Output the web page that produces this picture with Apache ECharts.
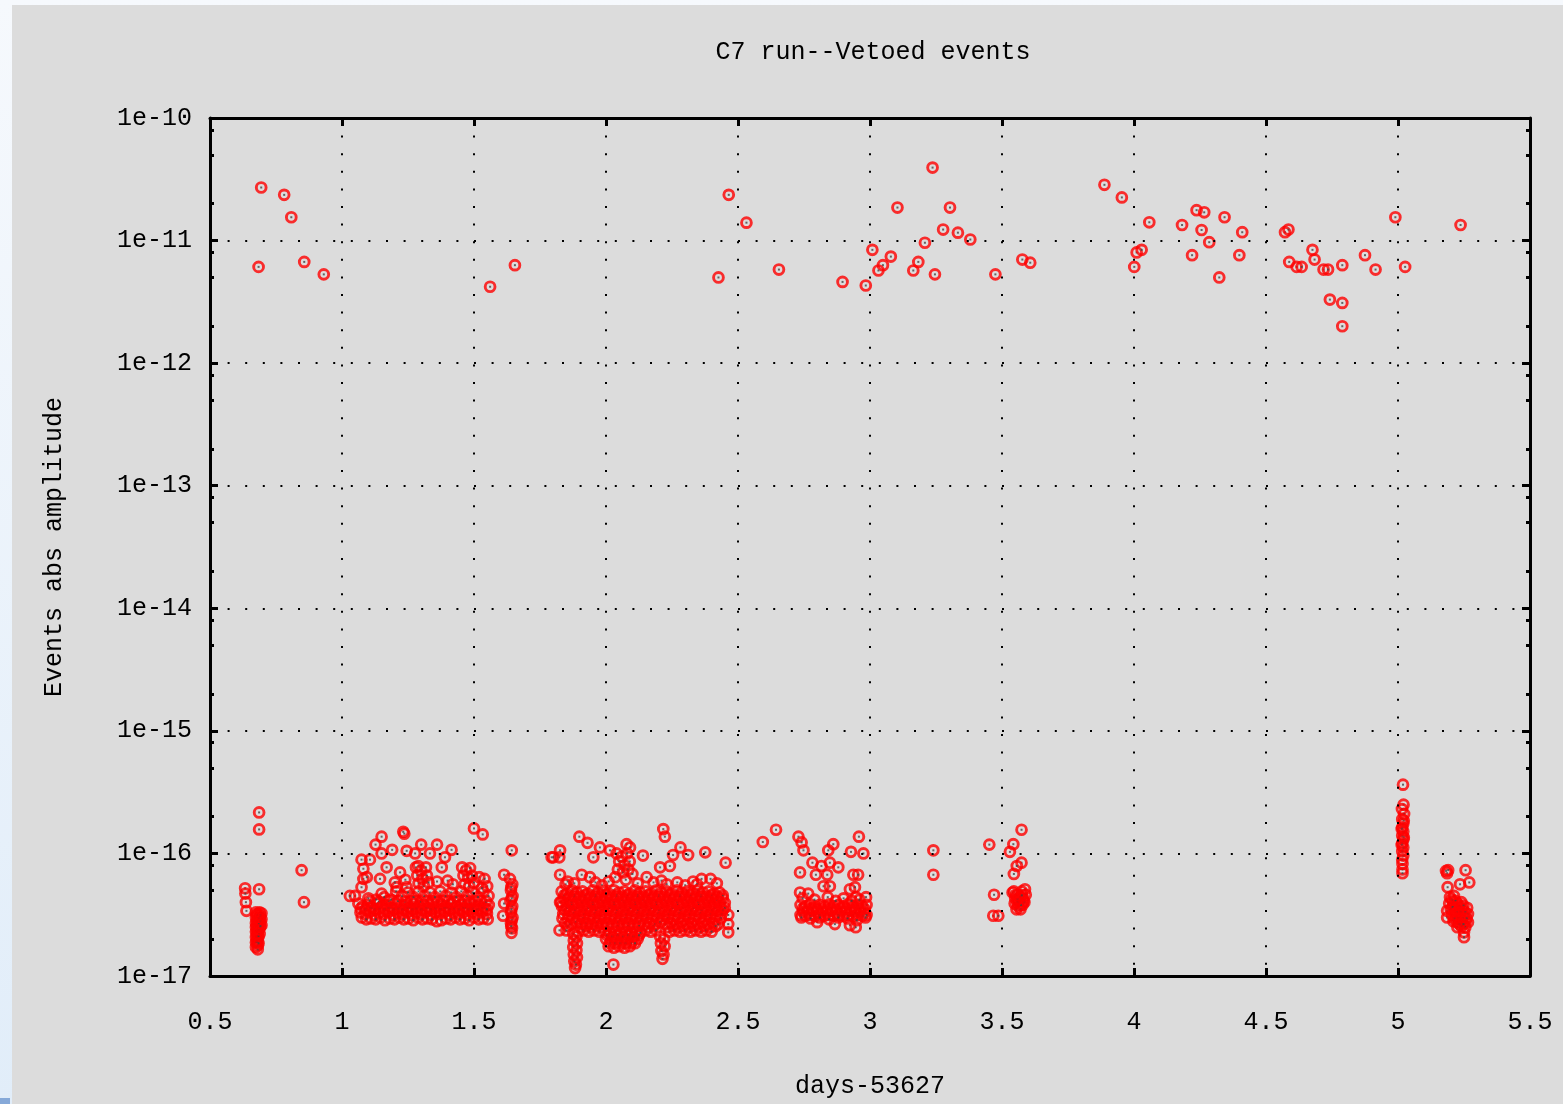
<!DOCTYPE html>
<html>
<head>
<meta charset="utf-8">
<title>C7 run--Vetoed events</title>
<script src="https://cdn.jsdelivr.net/npm/echarts@6/dist/echarts.min.js"></script>
<style>
  html, body { margin: 0; padding: 0; width: 1563px; height: 1104px; overflow: hidden;
    background: linear-gradient(#f6f9fd, #e1edf9); }
  #myChart { position: absolute; left: 12px; top: 5px; width: 1551px; height: 1099px; background: #dcdcdc; }
  #corner { position: absolute; left: 0; top: 1098px; width: 10px; height: 6px; background: #86a9d8; }
</style>
</head>
<body>
<div id="myChart"></div>
<div id="corner"></div>
<script>
// [days-53627, abs amplitude]

// loud events, 1e-12 .. 1e-10
const eventsHigh = [
  [0.694,2.71e-11],[0.781,2.36e-11],[0.808,1.55e-11],[0.684,6.1e-12],[0.857,6.7e-12],[0.931,5.3e-12],
  [1.561,4.2e-12],[1.655,6.3e-12],
  [2.426,5.0e-12],[2.465,2.36e-11],[2.532,1.40e-11],[2.655,5.8e-12],
  [2.896,4.6e-12],[2.984,4.3e-12],[3.009,8.4e-12],[3.079,7.4e-12],[3.049,6.3e-12],[3.032,5.7e-12],
  [3.104,1.86e-11],[3.237,3.94e-11],[3.183,6.7e-12],[3.164,5.7e-12],[3.208,9.6e-12],[3.246,5.3e-12],
  [3.303,1.86e-11],[3.277,1.23e-11],[3.333,1.16e-11],[3.380,1.02e-11],[3.475,5.3e-12],[3.577,7.0e-12],[3.607,6.6e-12],
  [3.888,2.85e-11],[3.954,2.25e-11],[4.058,1.41e-11],[4.010,8.0e-12],[4.029,8.4e-12],[4.001,6.1e-12],
  [4.182,1.34e-11],[4.237,1.77e-11],[4.266,1.70e-11],[4.256,1.22e-11],[4.285,9.7e-12],[4.343,1.55e-11],
  [4.220,7.6e-12],[4.323,5.0e-12],[4.410,1.17e-11],[4.399,7.6e-12],[4.572,1.17e-11],[4.585,1.23e-11],
  [4.588,6.7e-12],[4.616,6.1e-12],[4.635,6.1e-12],[4.676,8.4e-12],[4.684,7.0e-12],[4.718,5.8e-12],[4.735,5.8e-12],
  [4.789,6.3e-12],[4.742,3.3e-12],[4.789,3.1e-12],[4.789,2.0e-12],[4.875,7.6e-12],[4.915,5.8e-12],
  [4.990,1.55e-11],[5.027,6.1e-12],[5.237,1.34e-11]
];

// day 0.6 - 0.9
const eventsDay06 = [
  [0.633,5.2e-17],[0.634,4.7e-17],[0.636,4.0e-17],[0.638,3.4e-17],[0.686,5.1e-17],[0.686,2.16e-16],[0.686,1.57e-16],
  [0.847,7.3e-17],[0.856,4.0e-17],
  [0.674,3.3e-17],[0.674,3.0e-17],[0.674,2.7e-17],[0.674,2.5e-17],[0.674,2.3e-17],[0.674,2.07e-17],[0.674,1.88e-17],[0.674,1.72e-17],
  [0.681,3.2e-17],[0.681,2.85e-17],[0.681,2.6e-17],[0.681,2.4e-17],[0.681,2.15e-17],[0.681,1.95e-17],[0.681,1.78e-17],[0.681,1.65e-17],
  [0.688,3.3e-17],[0.688,3.0e-17],[0.688,2.7e-17],[0.688,2.45e-17],[0.688,2.2e-17],
  [0.695,3.25e-17],[0.695,2.9e-17],[0.695,2.6e-17],
  [0.677,3.15e-17],[0.677,2.8e-17],[0.677,2.55e-17],[0.677,2.3e-17],[0.677,2.1e-17],[0.677,1.9e-17],
  [0.684,2.95e-17],[0.684,2.65e-17],[0.684,2.35e-17],[0.684,2.1e-17],[0.684,1.85e-17],
  [0.691,3.1e-17],[0.691,2.8e-17],[0.691,2.55e-17]
];

// day 1.0 - 1.7
const eventsDay10 = [
  [1.150,1.37e-16],[1.232,1.5e-16],[1.236,1.45e-16],[1.127,1.18e-16],[1.190,1.07e-16],[1.300,1.18e-16],[1.360,1.18e-16],
  [1.415,1.07e-16],[1.245,1.05e-16],[1.277,1.0e-16],[1.333,1.0e-16],[1.150,1.0e-16],[1.074,8.9e-17],[1.106,8.9e-17],
  [1.390,9.3e-17],[1.169,7.7e-17],[1.220,7.0e-17],[1.081,7.5e-17],[1.378,7.7e-17],[1.289,7.9e-17],[1.144,6.2e-17],
  [1.081,6.2e-17],[1.207,5.3e-17],[1.245,5.3e-17],[1.150,4.7e-17],[1.049,4.5e-17],[1.030,4.5e-17],[1.074,5.3e-17],
  [1.094,6.4e-17],[1.500,1.6e-16],[1.533,1.43e-16],[1.643,1.06e-16],
  [1.062,3.9e-17],[1.079,3.7e-17],[1.098,3.8e-17],[1.114,3.6e-17],[1.133,3.9e-17],[1.151,3.7e-17],[1.167,3.8e-17],
  [1.187,3.6e-17],[1.203,3.9e-17],[1.222,3.7e-17],[1.238,3.8e-17],[1.257,3.6e-17],[1.273,3.9e-17],[1.293,3.7e-17],
  [1.308,3.8e-17],[1.328,3.6e-17],[1.344,3.9e-17],[1.363,3.7e-17],[1.379,3.8e-17],[1.399,3.6e-17],[1.414,3.9e-17],
  [1.434,3.7e-17],[1.450,3.8e-17],[1.469,3.6e-17],[1.485,3.9e-17],[1.505,3.7e-17],[1.520,3.8e-17],[1.540,3.6e-17],[1.556,3.8e-17],
  [1.070,3.3e-17],[1.088,3.2e-17],[1.106,3.35e-17],[1.124,3.15e-17],[1.142,3.3e-17],[1.159,3.2e-17],[1.177,3.35e-17],
  [1.195,3.15e-17],[1.212,3.3e-17],[1.230,3.2e-17],[1.248,3.35e-17],[1.266,3.15e-17],[1.283,3.3e-17],[1.301,3.2e-17],
  [1.319,3.35e-17],[1.336,3.15e-17],[1.354,3.3e-17],[1.372,3.2e-17],[1.389,3.35e-17],[1.407,3.15e-17],[1.425,3.3e-17],
  [1.443,3.2e-17],[1.460,3.35e-17],[1.478,3.15e-17],[1.496,3.3e-17],[1.513,3.2e-17],[1.531,3.35e-17],[1.549,3.2e-17],
  [1.075,3.0e-17],[1.110,2.95e-17],[1.146,3.0e-17],[1.181,2.95e-17],[1.217,3.0e-17],[1.252,2.95e-17],[1.288,3.0e-17],
  [1.323,2.95e-17],[1.359,2.8e-17],[1.394,2.95e-17],[1.430,3.0e-17],[1.465,2.95e-17],[1.500,3.0e-17],[1.535,2.95e-17],
  [1.092,2.9e-17],[1.128,2.9e-17],[1.163,2.85e-17],[1.199,2.9e-17],[1.234,2.9e-17],[1.270,2.85e-17],[1.305,2.9e-17],
  [1.341,2.9e-17],[1.376,2.85e-17],[1.412,2.9e-17],[1.447,2.9e-17],[1.482,2.85e-17],[1.518,2.9e-17],[1.552,2.9e-17],
  [1.071,3.55e-17],[1.089,3.5e-17],[1.107,3.6e-17],[1.124,3.5e-17],[1.142,3.55e-17],[1.160,3.5e-17],[1.177,3.6e-17],
  [1.195,3.5e-17],[1.213,3.55e-17],[1.230,3.5e-17],[1.248,3.6e-17],[1.266,3.5e-17],[1.283,3.55e-17],[1.301,3.5e-17],
  [1.319,3.6e-17],[1.336,3.5e-17],[1.354,3.55e-17],[1.372,3.5e-17],[1.389,3.6e-17],[1.407,3.5e-17],[1.425,3.55e-17],
  [1.443,3.5e-17],[1.460,3.6e-17],[1.478,3.5e-17],[1.496,3.55e-17],[1.513,3.5e-17],[1.531,3.6e-17],[1.549,3.5e-17],
  [1.105,4.1e-17],[1.140,4.05e-17],[1.176,4.1e-17],[1.212,4.1e-17],[1.240,4.05e-17],[1.262,4.1e-17],[1.281,4.1e-17],
  [1.300,4.05e-17],[1.322,4.1e-17],[1.343,4.1e-17],[1.362,4.05e-17],[1.383,4.1e-17],[1.403,4.1e-17],[1.424,4.05e-17],
  [1.443,4.1e-17],[1.463,4.1e-17],[1.484,4.05e-17],[1.505,4.1e-17],[1.526,4.1e-17],[1.546,4.05e-17],
  [1.205,4.9e-17],[1.228,4.5e-17],[1.250,4.8e-17],[1.271,4.4e-17],[1.290,4.9e-17],[1.312,4.5e-17],[1.333,4.8e-17],
  [1.352,4.4e-17],[1.372,4.9e-17],[1.393,4.5e-17],[1.414,4.8e-17],[1.433,4.4e-17],[1.452,4.9e-17],[1.474,4.5e-17],
  [1.495,4.8e-17],[1.515,4.4e-17],[1.536,4.9e-17],[1.555,4.5e-17],
  [1.100,4.3e-17],[1.130,4.2e-17],[1.160,4.4e-17],[1.185,4.2e-17],
  [1.280,7.7e-17],[1.300,7.2e-17],[1.318,7.7e-17],[1.285,6.6e-17],[1.305,6.2e-17],[1.322,6.6e-17],[1.290,5.7e-17],
  [1.310,5.4e-17],[1.328,5.8e-17],
  [1.455,7.7e-17],[1.470,7.3e-17],[1.485,7.6e-17],[1.460,6.6e-17],[1.478,6.3e-17],[1.492,6.6e-17],[1.465,5.6e-17],
  [1.482,5.4e-17],[1.500,5.8e-17],[1.520,6.4e-17],[1.540,6.2e-17],[1.550,5.4e-17],[1.530,5.2e-17],
  [1.400,6.0e-17],[1.420,5.6e-17],[1.360,5.9e-17],[1.240,6.1e-17],[1.200,5.8e-17],
  [1.614,6.7e-17],[1.614,3.9e-17],[1.610,3.1e-17],[1.636,6.2e-17],[1.645,5.6e-17],[1.640,5.0e-17],[1.646,4.5e-17],
  [1.638,4.1e-17],[1.645,3.7e-17],[1.640,3.3e-17],[1.646,3.0e-17],[1.640,2.7e-17],[1.644,2.45e-17],[1.642,2.25e-17],
  [1.641,5.3e-17],[1.643,4.3e-17],[1.642,3.5e-17],[1.643,2.85e-17],[1.641,2.55e-17]
];

// day 1.8 - 2.5
const eventsDay18 = [
  [1.823,9.3e-17],[1.794,9.3e-17],[1.826,1.06e-16],[1.899,1.37e-16],[1.930,1.22e-16],[1.977,1.12e-16],[2.015,1.06e-16],
  [1.952,9.3e-17],[1.826,6.7e-17],[1.847,5.6e-17],[1.826,4.0e-17],[1.824,2.36e-17],[2.028,1.24e-17],[1.883,1.16e-17],
  [2.217,1.58e-16],[2.223,1.37e-16],[2.078,1.19e-16],[2.091,1.12e-16],[2.140,9.6e-17],[2.282,1.12e-16],[2.254,9.7e-17],
  [2.311,9.7e-17],[2.376,1.02e-16],[2.453,8.4e-17],[1.800,9.3e-17],[2.205,7.7e-17],[2.242,7.9e-17],[1.908,6.7e-17],
  [1.939,6.4e-17],[2.154,6.4e-17],[2.110,4.2e-17],[2.362,6.2e-17],[2.396,6.2e-17],[2.463,3.15e-17],[2.463,2.65e-17],[2.463,2.27e-17],
  [2.040,1.0e-16],[2.060,9.4e-17],[2.080,1.0e-16],[2.050,8.6e-17],[2.070,8.0e-17],[2.090,8.6e-17],[2.045,7.4e-17],
  [2.065,7.0e-17],[2.085,7.4e-17],[2.100,6.8e-17],[2.035,6.4e-17],[2.075,6.1e-17],
  [1.855,5.9e-17],[1.880,5.7e-17],[1.960,5.8e-17],[1.985,5.5e-17],[2.010,5.9e-17],[2.120,5.7e-17],[2.180,5.8e-17],
  [2.210,6.0e-17],[2.230,5.6e-17],[2.270,5.8e-17],[2.300,5.5e-17],[2.330,5.9e-17],[2.345,5.6e-17],[2.420,5.7e-17],
  [1.832,4.9e-17],[1.851,4.7e-17],[1.872,5.0e-17],[1.890,4.8e-17],[1.911,4.9e-17],[1.930,4.7e-17],[1.951,5.0e-17],
  [1.970,4.8e-17],[1.990,4.9e-17],[2.010,4.7e-17],[2.030,5.0e-17],[2.049,4.8e-17],[2.070,4.9e-17],[2.089,4.7e-17],
  [2.110,5.0e-17],[2.129,4.8e-17],[2.150,4.9e-17],[2.169,4.7e-17],[2.190,5.0e-17],[2.208,4.8e-17],[2.229,4.9e-17],
  [2.248,4.7e-17],[2.269,5.0e-17],[2.288,4.8e-17],[2.309,4.9e-17],[2.328,4.7e-17],[2.349,5.0e-17],[2.368,4.8e-17],
  [2.389,4.9e-17],[2.408,4.7e-17],[2.430,4.8e-17],
  [1.842,4.55e-17],[1.862,4.45e-17],[1.882,4.55e-17],[1.902,4.45e-17],[1.922,4.55e-17],[1.942,4.45e-17],[1.962,4.55e-17],
  [1.982,4.45e-17],[2.002,4.55e-17],[2.022,4.45e-17],[2.042,4.55e-17],[2.062,4.45e-17],[2.082,4.55e-17],[2.102,4.45e-17],
  [2.122,4.55e-17],[2.142,4.45e-17],[2.162,4.55e-17],[2.182,4.45e-17],[2.202,4.55e-17],[2.222,4.45e-17],[2.242,4.55e-17],
  [2.262,4.45e-17],[2.282,4.55e-17],[2.302,4.45e-17],[2.322,4.55e-17],[2.342,4.45e-17],[2.362,4.55e-17],[2.382,4.45e-17],
  [2.402,4.55e-17],[2.422,4.45e-17],[2.442,4.55e-17],
  [1.840,4.3e-17],[1.861,4.2e-17],[1.880,4.4e-17],[1.901,4.2e-17],[1.920,4.3e-17],[1.941,4.2e-17],[1.960,4.4e-17],
  [1.981,4.2e-17],[2.000,4.3e-17],[2.021,4.2e-17],[2.040,4.4e-17],[2.061,4.2e-17],[2.080,4.3e-17],[2.101,4.2e-17],
  [2.120,4.4e-17],[2.141,4.2e-17],[2.160,4.3e-17],[2.181,4.2e-17],[2.200,4.4e-17],[2.221,4.2e-17],[2.240,4.3e-17],
  [2.261,4.2e-17],[2.280,4.4e-17],[2.301,4.2e-17],[2.320,4.3e-17],[2.341,4.2e-17],[2.360,4.4e-17],[2.381,4.2e-17],
  [2.400,4.3e-17],[2.421,4.2e-17],[2.442,4.3e-17],
  [1.830,4.0e-17],[1.850,3.95e-17],[1.870,4.0e-17],[1.890,3.95e-17],[1.910,4.0e-17],[1.930,3.95e-17],[1.950,4.0e-17],
  [1.970,3.95e-17],[1.990,4.0e-17],[2.010,3.95e-17],[2.030,4.0e-17],[2.050,3.95e-17],[2.070,4.0e-17],[2.090,3.95e-17],
  [2.110,4.0e-17],[2.130,3.95e-17],[2.150,4.0e-17],[2.170,3.95e-17],[2.190,4.0e-17],[2.210,3.95e-17],[2.230,4.0e-17],
  [2.250,3.95e-17],[2.270,4.0e-17],[2.290,3.95e-17],[2.310,4.0e-17],[2.330,3.95e-17],[2.350,4.0e-17],[2.370,3.95e-17],
  [2.390,4.0e-17],[2.410,3.95e-17],[2.430,4.0e-17],[2.450,3.95e-17],
  [1.833,3.7e-17],[1.852,3.6e-17],[1.873,3.8e-17],[1.892,3.6e-17],[1.913,3.7e-17],[1.932,3.6e-17],[1.953,3.8e-17],
  [1.972,3.6e-17],[1.993,3.7e-17],[2.012,3.6e-17],[2.033,3.8e-17],[2.052,3.6e-17],[2.073,3.7e-17],[2.092,3.6e-17],
  [2.113,3.8e-17],[2.132,3.6e-17],[2.153,3.7e-17],[2.172,3.6e-17],[2.193,3.8e-17],[2.212,3.6e-17],[2.233,3.7e-17],
  [2.252,3.6e-17],[2.273,3.8e-17],[2.292,3.6e-17],[2.313,3.7e-17],[2.332,3.6e-17],[2.353,3.8e-17],[2.372,3.6e-17],
  [2.393,3.7e-17],[2.412,3.6e-17],[2.433,3.7e-17],[2.450,3.6e-17],
  [1.843,3.45e-17],[1.863,3.4e-17],[1.883,3.45e-17],[1.903,3.4e-17],[1.923,3.45e-17],[1.943,3.4e-17],[1.963,3.45e-17],
  [1.983,3.4e-17],[2.003,3.45e-17],[2.023,3.4e-17],[2.043,3.45e-17],[2.063,3.4e-17],[2.083,3.45e-17],[2.103,3.4e-17],
  [2.123,3.45e-17],[2.143,3.4e-17],[2.163,3.45e-17],[2.183,3.4e-17],[2.203,3.45e-17],[2.223,3.4e-17],[2.243,3.45e-17],
  [2.263,3.4e-17],[2.283,3.45e-17],[2.303,3.4e-17],[2.323,3.45e-17],[2.343,3.4e-17],[2.363,3.45e-17],[2.383,3.4e-17],
  [2.403,3.45e-17],[2.423,3.4e-17],[2.443,3.45e-17],
  [1.838,3.2e-17],[1.859,3.1e-17],[1.878,3.25e-17],[1.899,3.1e-17],[1.918,3.2e-17],[1.939,3.1e-17],[1.958,3.25e-17],
  [1.979,3.1e-17],[1.998,3.2e-17],[2.019,3.1e-17],[2.038,3.25e-17],[2.059,3.1e-17],[2.078,3.2e-17],[2.099,3.1e-17],
  [2.118,3.25e-17],[2.139,3.1e-17],[2.158,3.2e-17],[2.179,3.1e-17],[2.198,3.25e-17],[2.219,3.1e-17],[2.238,3.2e-17],
  [2.259,3.1e-17],[2.278,3.25e-17],[2.299,3.1e-17],[2.318,3.2e-17],[2.339,3.1e-17],[2.358,3.25e-17],[2.379,3.1e-17],
  [2.398,3.2e-17],[2.419,3.1e-17],[2.438,3.2e-17],
  [1.835,2.95e-17],[1.855,2.9e-17],[1.875,2.95e-17],[1.895,2.9e-17],[1.915,2.95e-17],[1.935,2.9e-17],[1.955,2.95e-17],
  [1.975,2.9e-17],[1.995,2.95e-17],[2.015,2.9e-17],[2.035,2.95e-17],[2.055,2.9e-17],[2.075,2.95e-17],[2.095,2.9e-17],
  [2.115,2.95e-17],[2.135,2.9e-17],[2.155,2.95e-17],[2.175,2.9e-17],[2.195,2.95e-17],[2.215,2.9e-17],[2.235,2.95e-17],
  [2.255,2.9e-17],[2.275,2.95e-17],[2.295,2.9e-17],[2.315,2.95e-17],[2.335,2.9e-17],[2.355,2.95e-17],[2.375,2.9e-17],
  [2.395,2.95e-17],[2.415,2.9e-17],[2.435,2.95e-17],
  [1.845,2.7e-17],[1.866,2.65e-17],[1.886,2.75e-17],[1.905,2.65e-17],[1.926,2.7e-17],[1.946,2.65e-17],[1.966,2.75e-17],
  [1.986,2.65e-17],[2.006,2.7e-17],[2.026,2.65e-17],[2.046,2.75e-17],[2.066,2.65e-17],[2.086,2.7e-17],[2.106,2.65e-17],
  [2.126,2.75e-17],[2.146,2.65e-17],[2.166,2.7e-17],[2.186,2.65e-17],[2.206,2.75e-17],[2.226,2.65e-17],[2.246,2.7e-17],
  [2.266,2.65e-17],[2.286,2.75e-17],[2.306,2.65e-17],[2.326,2.7e-17],[2.346,2.65e-17],[2.366,2.75e-17],[2.386,2.65e-17],
  [2.406,2.7e-17],[2.426,2.65e-17],
  [1.855,2.55e-17],[1.905,2.5e-17],[1.925,2.55e-17],[1.945,2.5e-17],[1.965,2.55e-17],[1.985,2.5e-17],[2.005,2.55e-17],
  [2.025,2.5e-17],[2.045,2.55e-17],[2.065,2.5e-17],[2.085,2.55e-17],[2.105,2.5e-17],[2.125,2.55e-17],[2.160,2.5e-17],
  [2.180,2.55e-17],[2.235,2.5e-17],[2.255,2.55e-17],[2.275,2.5e-17],[2.295,2.55e-17],[2.315,2.5e-17],[2.335,2.55e-17],
  [2.355,2.5e-17],[2.375,2.55e-17],[2.395,2.5e-17],[2.415,2.55e-17],
  [1.850,2.35e-17],[1.895,2.3e-17],[1.915,2.35e-17],[1.935,2.3e-17],[1.955,2.35e-17],[1.975,2.3e-17],[2.150,2.35e-17],
  [2.170,2.3e-17],[2.190,2.35e-17],[2.240,2.3e-17],[2.260,2.35e-17],[2.280,2.3e-17],[2.300,2.35e-17],[2.320,2.3e-17],
  [2.340,2.35e-17],[2.360,2.3e-17],[2.380,2.35e-17],[2.400,2.3e-17],
  [1.876,2.2e-17],[1.888,2.1e-17],[1.878,1.95e-17],[1.890,1.85e-17],[1.876,1.72e-17],[1.888,1.62e-17],[1.878,1.5e-17],
  [1.890,1.42e-17],[1.880,1.32e-17],[1.886,1.24e-17],
  [1.995,2.3e-17],[2.015,2.25e-17],[2.035,2.3e-17],[2.055,2.25e-17],[2.075,2.3e-17],[2.095,2.25e-17],[2.115,2.3e-17],
  [2.130,2.25e-17],[2.000,2.0e-17],[2.020,1.95e-17],[2.040,2.0e-17],[2.060,1.95e-17],[2.080,2.0e-17],[2.100,1.95e-17],
  [2.120,2.0e-17],[2.010,1.75e-17],[2.030,1.7e-17],[2.050,1.75e-17],[2.070,1.7e-17],[2.090,1.75e-17],
  [2.005,2.15e-17],[2.025,2.1e-17],[2.045,2.15e-17],[2.065,2.1e-17],[2.085,2.15e-17],[2.105,2.1e-17],[2.125,2.15e-17],
  [2.015,1.85e-17],[2.035,1.85e-17],[2.055,1.85e-17],[2.075,1.85e-17],[2.095,1.85e-17],[2.110,1.85e-17],
  [2.205,2.1e-17],[2.220,2.0e-17],[2.208,1.85e-17],[2.222,1.75e-17],[2.210,1.6e-17],[2.218,1.5e-17],[2.214,1.38e-17]
];

// day 2.6 - 3.3
const eventsDay26 = [
  [2.644,1.56e-16],[2.594,1.24e-16],[2.729,1.37e-16],[2.741,1.23e-16],[2.748,1.06e-16],[2.958,1.37e-16],[2.861,1.19e-16],
  [2.842,1.06e-16],[2.928,1.03e-16],[2.975,1.0e-16],[2.782,8.4e-17],[2.816,7.9e-17],[2.848,8.4e-17],[2.880,7.7e-17],
  [2.735,7.0e-17],[2.795,6.7e-17],[2.838,6.7e-17],[2.937,6.7e-17],[2.955,6.7e-17],[2.735,4.8e-17],[2.766,4.7e-17],
  [2.824,5.4e-17],[2.848,5.4e-17],[2.924,5.1e-17],[2.943,5.3e-17],[2.947,4.4e-17],[2.924,2.6e-17],[2.867,2.65e-17],
  [2.946,2.5e-17],[2.800,2.75e-17],
  [2.737,3.8e-17],[2.755,3.7e-17],[2.773,3.85e-17],[2.791,3.7e-17],[2.809,3.8e-17],[2.827,3.7e-17],[2.845,3.85e-17],
  [2.863,3.7e-17],[2.881,3.8e-17],[2.899,3.7e-17],[2.917,3.85e-17],[2.935,3.7e-17],[2.953,3.8e-17],[2.971,3.7e-17],[2.987,3.8e-17],
  [2.746,3.55e-17],[2.764,3.5e-17],[2.782,3.55e-17],[2.800,3.5e-17],[2.818,3.55e-17],[2.836,3.5e-17],[2.854,3.55e-17],
  [2.872,3.5e-17],[2.890,3.55e-17],[2.908,3.5e-17],[2.926,3.55e-17],[2.944,3.5e-17],[2.962,3.55e-17],[2.980,3.5e-17],
  [2.746,3.35e-17],[2.764,3.3e-17],[2.782,3.4e-17],[2.800,3.3e-17],[2.818,3.35e-17],[2.836,3.3e-17],[2.854,3.4e-17],
  [2.872,3.3e-17],[2.890,3.35e-17],[2.908,3.3e-17],[2.926,3.4e-17],[2.944,3.3e-17],[2.962,3.35e-17],[2.980,3.3e-17],
  [2.737,3.15e-17],[2.755,3.1e-17],[2.773,3.15e-17],[2.791,3.1e-17],[2.809,3.15e-17],[2.827,3.1e-17],[2.845,3.15e-17],
  [2.863,3.1e-17],[2.881,3.15e-17],[2.899,3.1e-17],[2.917,3.15e-17],[2.935,3.1e-17],[2.953,3.15e-17],[2.971,3.1e-17],[2.987,3.15e-17],
  [2.740,3.0e-17],[2.775,2.95e-17],[2.810,3.0e-17],[2.845,2.9e-17],[2.880,3.0e-17],[2.915,2.95e-17],[2.950,2.85e-17],[2.983,3.0e-17],
  [2.745,4.3e-17],[2.790,4.2e-17],[2.840,4.4e-17],[2.870,4.1e-17],[2.900,4.3e-17],[2.930,4.1e-17],[2.960,4.2e-17],[2.985,4.4e-17],
  [3.240,1.06e-16],[3.240,6.7e-17]
];

// day 3.45 - 3.6
const eventsDay34 = [
  [3.452,1.18e-16],[3.574,1.56e-16],[3.543,1.19e-16],[3.530,1.03e-16],[3.574,8.4e-17],[3.556,7.9e-17],[3.545,6.8e-17],
  [3.470,4.6e-17],[3.467,3.1e-17],[3.486,3.1e-17],[3.587,5.1e-17],[3.540,4.8e-17],
  [3.545,4.9e-17],[3.560,4.6e-17],[3.575,4.9e-17],[3.550,4.3e-17],[3.565,4.1e-17],[3.580,4.3e-17],[3.548,3.9e-17],
  [3.562,3.7e-17],[3.578,3.8e-17],[3.555,3.5e-17],[3.570,3.5e-17],[3.585,4.0e-17],[3.590,4.6e-17],
  [3.552,4.6e-17],[3.568,4.4e-17],[3.582,4.1e-17],[3.558,4.0e-17],[3.572,3.8e-17],[3.560,4.25e-17],[3.575,4.55e-17]
];

// day 5.0
const eventsDay50 = [
  [5.019,3.64e-16],[5.021,2.5e-16],[5.015,2.3e-16],[5.023,2.1e-16],[5.016,1.9e-16],[5.022,1.85e-16],[5.020,1.75e-16],
  [5.016,1.63e-16],[5.014,1.58e-16],[5.020,1.51e-16],[5.016,1.4e-16],[5.022,1.35e-16],[5.020,1.3e-16],[5.016,1.21e-16],
  [5.014,1.17e-16],[5.020,1.12e-16],[5.016,1.04e-16],[5.020,9.6e-17],[5.016,8.9e-17],[5.017,8.2e-17],[5.017,7.4e-17],[5.017,6.9e-17]
];

// day 5.2
const eventsDay52 = [
  [5.182,7.2e-17],[5.186,6.9e-17],[5.190,7.3e-17],[5.256,7.3e-17],[5.188,5.3e-17],[5.235,5.6e-17],[5.270,5.8e-17],
  [5.250,2.27e-17],[5.250,2.07e-17],[5.186,3.4e-17],[5.186,3.0e-17],
  [5.197,4.4e-17],[5.212,4.5e-17],[5.194,3.9e-17],[5.209,4.0e-17],[5.225,3.9e-17],[5.240,4.0e-17],[5.200,3.5e-17],
  [5.215,3.45e-17],[5.230,3.55e-17],[5.245,3.5e-17],[5.262,3.6e-17],[5.205,3.15e-17],[5.220,3.1e-17],[5.235,3.2e-17],
  [5.250,3.1e-17],[5.265,3.2e-17],[5.210,2.8e-17],[5.225,2.75e-17],[5.240,2.85e-17],[5.255,2.8e-17],[5.265,2.75e-17],
  [5.225,2.5e-17],[5.240,2.55e-17],[5.255,2.5e-17],
  [5.203,4.2e-17],[5.218,4.1e-17],[5.233,3.7e-17],[5.248,3.75e-17],[5.207,3.65e-17],[5.222,3.3e-17],[5.238,3.35e-17],
  [5.255,3.3e-17],[5.213,2.95e-17],[5.228,2.95e-17],[5.245,2.95e-17],[5.260,2.95e-17],[5.232,2.65e-17],[5.248,2.65e-17]
];

// minor ticks on the log axis (gnuplot style 2, 5, 8 per decade)
const yMinorTicks = [
  2e-17,5e-17,8e-17, 2e-16,5e-16,8e-16, 2e-15,5e-15,8e-15, 2e-14,5e-14,8e-14,
  2e-13,5e-13,8e-13, 2e-12,5e-12,8e-12, 2e-11,5e-11,8e-11
];

const allEvents = [].concat(eventsHigh, eventsDay06, eventsDay10, eventsDay18, eventsDay26, eventsDay34, eventsDay50, eventsDay52);

const FONT = 'Liberation Mono';
const BLACK = '#000';

// ring with a dark centre dot, like gnuplot pointtype 6
const ringSvg = "<svg xmlns='http://www.w3.org/2000/svg' width='14' height='14'>" +
  "<circle cx='7' cy='7' r='4.9' fill='none' stroke='#ff0000' stroke-width='2.9'/>" +
  "<rect x='6' y='6' width='2' height='2' fill='#444'/></svg>";
const ringSymbol = 'image://data:image/svg+xml;charset=utf-8,' + encodeURIComponent(ringSvg);

const axisLine = {show: true, onZero: false, lineStyle: {color: BLACK, width: 3}};
const majorTick = {show: true, inside: true, length: 8, lineStyle: {color: BLACK, width: 3}};
const minorTick = {show: true, inside: true, length: 4, customValues: yMinorTicks, lineStyle: {color: BLACK, width: 3}};
const dotted = {show: true, lineStyle: {color: BLACK, width: 2, type: [2, 15.6]}};

function logAxis(pos, extra) {
  return Object.assign({
    type: 'log', logBase: 10, min: 1e-17, max: 1e-10, interval: 1, splitNumber: 7,
    position: pos, z: 5,
    axisLine: {show: false}, axisTick: {show: false}, axisLabel: {show: false}, splitLine: {show: false}
  }, extra);
}

const thisChart = echarts.init(document.getElementById('myChart'));

const options = {
  animation: false,
  title: {
    text: 'C7 run--Vetoed events',
    left: 856, top: 30, textAlign: 'center',
    textStyle: {fontFamily: FONT, fontSize: 25, fontWeight: 'normal', color: BLACK}
  },
  grid: {left: 198, right: 33, top: 113, bottom: 122, containLabel: false},
  xAxis: [
    {
      type: 'value', min: 0.5, max: 5.5, interval: 0.5, position: 'bottom', z: 5,
      name: 'days-53627', nameLocation: 'middle', nameGap: 98,
      nameTextStyle: {fontFamily: FONT, fontSize: 25, color: BLACK},
      axisLine: axisLine, axisTick: majorTick,
      axisLabel: {margin: 34, fontFamily: FONT, fontSize: 25, color: BLACK, showMinLabel: true, showMaxLabel: true},
      splitLine: dotted
    },
    {
      type: 'value', min: 0.5, max: 5.5, interval: 0.5, position: 'top', z: 5,
      axisLine: axisLine, axisTick: majorTick, axisLabel: {show: false}, splitLine: {show: false}
    }
  ],
  yAxis: [
    logAxis('left', {
      name: 'Events abs amplitude', nameLocation: 'middle', nameGap: 143, nameRotate: 90,
      nameTextStyle: {fontFamily: FONT, fontSize: 25, color: BLACK},
      axisLine: axisLine, axisTick: majorTick, splitLine: dotted,
      axisLabel: {
        show: true, margin: 18, fontFamily: FONT, fontSize: 25, color: BLACK,
        formatter: (v) => '1e' + Math.round(Math.log10(v))
      }
    }),
    logAxis('left', {axisTick: minorTick}),
    logAxis('right', {axisLine: axisLine, axisTick: majorTick}),
    logAxis('right', {axisTick: minorTick})
  ],
  series: [
    {
      name: 'Vetoed events',
      type: 'scatter',
      xAxisIndex: 0, yAxisIndex: 0,
      symbol: ringSymbol,
      symbolSize: 14,
      silent: true,
      z: 2,
      data: allEvents
    }
  ]
};

thisChart.setOption(options);
</script>
</body>
</html>
